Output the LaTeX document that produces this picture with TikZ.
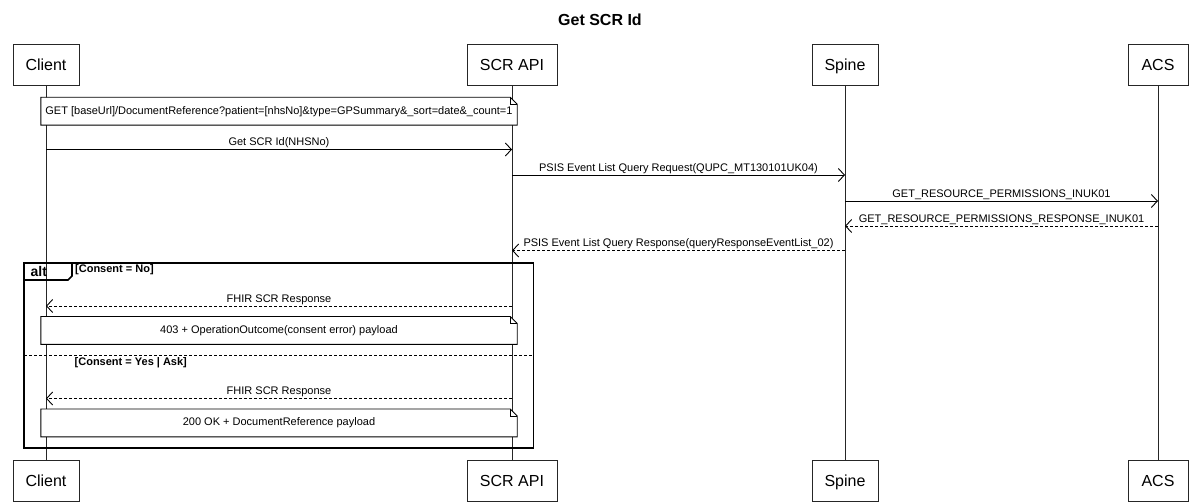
\documentclass[tikz,border=0pt]{standalone}
\usepackage{fontspec}
\setmainfont{Liberation Sans}
\usetikzlibrary{arrows.meta,backgrounds}
\newcommand{\notepoly}[1]{%
  \begin{pgfonlayer}{background}
    \filldraw[fill=white,line width=0.9pt] (#1.north west) -- ([xshift=-7pt]#1.north east) -- ([yshift=-7pt]#1.north east) -- (#1.south east) -- (#1.south west) -- cycle;
    \draw[line width=0.9pt] ([xshift=-7pt]#1.north east) -- ([xshift=-7pt,yshift=-7pt]#1.north east) -- ([yshift=-7pt]#1.north east);
  \end{pgfonlayer}}
\begin{document}
\begin{tikzpicture}[x=1pt,y=-1pt,
  titlestyle/.style={font=\fontsize{16}{18}\selectfont\bfseries},
  part/.style={draw=black!85,line width=0.9pt,fill=white,minimum height=41pt,inner sep=0pt,text height=11.6pt,text depth=0pt,font=\fontsize{16}{18}\selectfont},
  life/.style={draw=black!85,line width=0.9pt},
  notetext/.style={minimum width=476pt,minimum height=27.5pt,inner sep=0pt,text height=8pt,text depth=2.3pt,font=\fontsize{11}{13}\selectfont},
  msg/.style={line width=0.9pt,-{Straight Barb[length=6pt,width=13pt,line width=0.9pt]}},
  ret/.style={msg,dash pattern=on 3pt off 2pt},
  lbl/.style={above,inner sep=1pt,text height=8pt,text depth=2.3pt,font=\fontsize{11}{13}\selectfont},
  framestyle/.style={line width=1.6pt},
  guard/.style={anchor=west,inner sep=0pt,text height=8pt,text depth=2.3pt,font=\fontsize{11}{13}\selectfont\bfseries},
  altlbl/.style={anchor=west,inner sep=0pt,text height=10.2pt,text depth=0pt,font=\fontsize{14}{16}\selectfont\bfseries}
]
\useasboundingbox (0,0) rectangle (1200,502);

\node[titlestyle] (title) at (600,20) {Get SCR Id};

% participants
\node[part,minimum width=66pt] (clientT) at (46,64.5) {Client};
\node[part,minimum width=90pt] (scrT) at (512,64.5) {SCR API};
\node[part,minimum width=66pt] (spineT) at (845,64.5) {Spine};
\node[part,minimum width=60pt] (acsT) at (1158,64.5) {ACS};
\node[part,minimum width=66pt] (clientB) at (46,480.5) {Client};
\node[part,minimum width=90pt] (scrB) at (512,480.5) {SCR API};
\node[part,minimum width=66pt] (spineB) at (845,480.5) {Spine};
\node[part,minimum width=60pt] (acsB) at (1158,480.5) {ACS};

\begin{pgfonlayer}{background}
\draw[life] (clientT.south) -- (clientB.north);
\draw[life] (scrT.south) -- (scrB.north);
\draw[life] (spineT.south) -- (spineB.north);
\draw[life] (acsT.south) -- (acsB.north);
\end{pgfonlayer}

% note 1
\node[notetext] (n1) at (279,111.25) {GET [baseUrl]/DocumentReference?patient=[nhsNo]\&type=GPSummary\&\_sort=date\&\_count=1};
\notepoly{n1}

% messages
\coordinate (m1a) at (46,149.5);  \coordinate (m1b) at (512,149.5);
\coordinate (m2a) at (512,175);   \coordinate (m2b) at (845,175);
\coordinate (m3a) at (845,201);   \coordinate (m3b) at (1158,201);
\coordinate (m4a) at (1158,226);  \coordinate (m4b) at (845,226);
\coordinate (m5a) at (845,250.5); \coordinate (m5b) at (512,250.5);
\coordinate (m6a) at (512,306);   \coordinate (m6b) at (46,306);
\coordinate (m7a) at (512,398.5); \coordinate (m7b) at (46,398.5);

\draw[msg] (m1a) -- node[lbl] (l1) {Get SCR Id(NHSNo)} (m1b);
\draw[msg] (m2a) -- node[lbl] (l2) {PSIS Event List Query Request(QUPC\_MT130101UK04)} (m2b);
\draw[msg] (m3a) -- node[lbl] (l3) {GET\_RESOURCE\_PERMISSIONS\_INUK01} (m3b);
\draw[ret] (m4a) -- node[lbl] (l4) {GET\_RESOURCE\_PERMISSIONS\_RESPONSE\_INUK01} (m4b);
\draw[ret] (m5a) -- node[lbl] (l5) {PSIS Event List Query Response(queryResponseEventList\_02)} (m5b);

% alt frame
\coordinate (fnw) at (24,263);
\coordinate (fse) at (533.5,448);
\draw[framestyle] (fnw) rectangle (fse);
\draw[framestyle] (24,280) -- (68,280) -- (72,276) -- (72,263);
\node[altlbl] (alt) at (30.5,271.5) {alt};
\node[guard] (g1) at (75,270) {[Consent = No]};

\draw[ret] (m6a) -- node[lbl] (l6) {FHIR SCR Response} (m6b);
\node[notetext] (n2) at (279,330.5) {403 + OperationOutcome(consent error) payload};
\notepoly{n2}

\coordinate (sepa) at (24,355.5);
\coordinate (sepb) at (533.5,355.5);
\draw[line width=1.4pt,dash pattern=on 3pt off 2pt] (sepa) -- (sepb);
\node[guard] (g2) at (74.5,362.5) {[Consent = Yes | Ask]};

\draw[ret] (m7a) -- node[lbl] (l7) {FHIR SCR Response} (m7b);
\node[notetext] (n3) at (279,423) {200 OK + DocumentReference payload};
\notepoly{n3}
\end{tikzpicture}
\end{document}
